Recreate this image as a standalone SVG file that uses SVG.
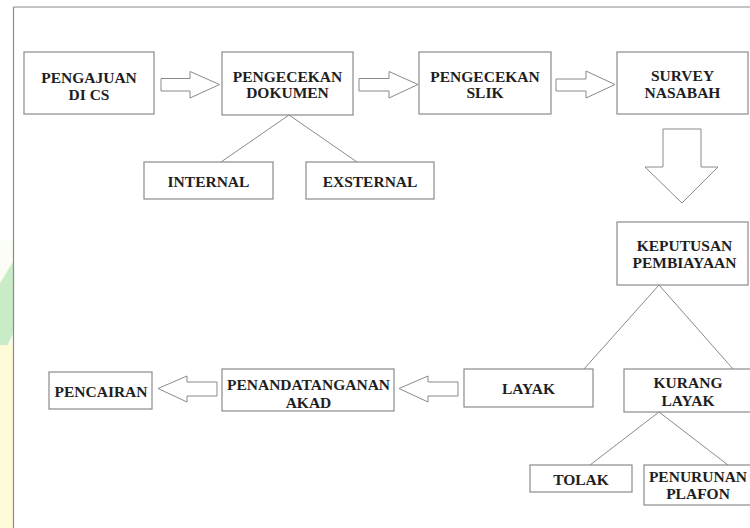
<svg xmlns="http://www.w3.org/2000/svg" width="750" height="528" viewBox="0 0 750 528">
<defs>
<style>
.box{fill:#fff;stroke:#8a8a8a;stroke-width:1.2}
.t{font-family:'Liberation Serif','DejaVu Serif',serif;font-weight:700;font-size:15.5px;fill:#1e1e1e;text-anchor:middle}
.ln{stroke:#8a8a8a;stroke-width:1;fill:none}
.ar{fill:#fff;stroke:#8a8a8a;stroke-width:1;stroke-linejoin:miter}
</style>
<linearGradient id="wm" x1="0" y1="0" x2="0" y2="1">
<stop offset="0" stop-color="#fbfdf8"/>
<stop offset="1" stop-color="#fefbd6"/>
</linearGradient>
</defs>
<rect width="750" height="528" fill="#fff"/>
<g id="watermark">
<rect x="0" y="240" width="13" height="288" fill="url(#wm)"/>
<polygon points="0,283 13,262 13,334 0,360" fill="#c9ebc6"/>
<rect x="0" y="345" width="13" height="183" fill="#fefcd8"/>
</g>
<g id="frame">
<line x1="13.5" y1="7" x2="750" y2="7" stroke="#8a8a8a" stroke-width="1.2"/>
<line x1="13.5" y1="7" x2="13.5" y2="528" stroke="#8a8a8a" stroke-width="1.2"/>
</g>
<g id="connectors">
<polygon class="ar" points="161,78.5 190,78.5 190,71.5 219.5,84.5 190,98 190,91 161,91"/>
<polygon class="ar" points="359,78.5 389,78.5 389,71.5 418,84.5 389,98 389,91 359,91"/>
<polygon class="ar" points="556,79 586,79 586,71 615,84.5 586,98 586,91 556,91"/>
<polygon class="ar" points="663,129 701,129 701,167 718,167 682,203 645,167 663,167"/>
<polygon class="ar" points="458,382 428,382 428,376 399,388.5 428,402 428,396 458,396"/>
<polygon class="ar" points="217,382 187,382 187,376 158,388.5 187,402 187,396 217,396"/>
<line class="ln" x1="289" y1="115" x2="221" y2="162"/>
<line class="ln" x1="289" y1="115" x2="357" y2="162"/>
<line class="ln" x1="659" y1="285" x2="584" y2="369"/>
<line class="ln" x1="659" y1="285" x2="733" y2="369"/>
<line class="ln" x1="659" y1="412" x2="590" y2="465"/>
<line class="ln" x1="659" y1="412" x2="728" y2="465"/>
</g>
<g font-family="Liberation Serif, DejaVu Serif, serif">
<g id="pengajuan">
<rect class="box" x="24" y="52" width="130" height="62"/>
<text class="t" x="89" y="83">PENGAJUAN</text>
<text class="t" x="89" y="100">DI CS</text>
</g>
<g id="pengecekan-dokumen">
<rect class="box" x="222" y="52" width="131" height="63"/>
<text class="t" x="287.5" y="82">PENGECEKAN</text>
<text class="t" x="287.5" y="98">DOKUMEN</text>
</g>
<g id="pengecekan-slik">
<rect class="box" x="419" y="52" width="132" height="62"/>
<text class="t" x="485" y="82">PENGECEKAN</text>
<text class="t" x="485" y="98">SLIK</text>
</g>
<g id="survey-nasabah">
<rect class="box" x="617" y="52" width="131" height="62"/>
<text class="t" x="682.5" y="81">SURVEY</text>
<text class="t" x="682.5" y="98">NASABAH</text>
</g>
<g id="internal">
<rect class="box" x="144" y="162" width="129" height="37"/>
<text class="t" x="208.5" y="187">INTERNAL</text>
</g>
<g id="eksternal">
<rect class="box" x="306" y="162" width="128" height="37"/>
<text class="t" x="370" y="187">EXSTERNAL</text>
</g>
<g id="keputusan">
<rect class="box" x="617" y="222" width="131" height="63"/>
<text class="t" x="684.5" y="251">KEPUTUSAN</text>
<text class="t" x="684.5" y="268">PEMBIAYAAN</text>
</g>
<g id="layak">
<rect class="box" x="464" y="369" width="129" height="38"/>
<text class="t" x="528.5" y="394">LAYAK</text>
</g>
<g id="kurang-layak">
<rect class="box" x="624" y="369" width="128" height="43"/>
<text class="t" x="688" y="388">KURANG</text>
<text class="t" x="688" y="406">LAYAK</text>
</g>
<g id="tolak">
<rect class="box" x="530" y="465" width="102" height="27"/>
<text class="t" x="581" y="485">TOLAK</text>
</g>
<g id="penurunan-plafon">
<rect class="box" x="644" y="465" width="108" height="40"/>
<text class="t" x="698" y="482">PENURUNAN</text>
<text class="t" x="698" y="499">PLAFON</text>
</g>
<g id="penandatanganan">
<rect class="box" x="222" y="369" width="172" height="42"/>
<text class="t" x="308.5" y="390">PENANDATANGANAN</text>
<text class="t" x="308.5" y="408">AKAD</text>
</g>
<g id="pencairan">
<rect class="box" x="49" y="372" width="103" height="37"/>
<text class="t" x="101" y="397">PENCAIRAN</text>
</g>
</g>
</svg>
